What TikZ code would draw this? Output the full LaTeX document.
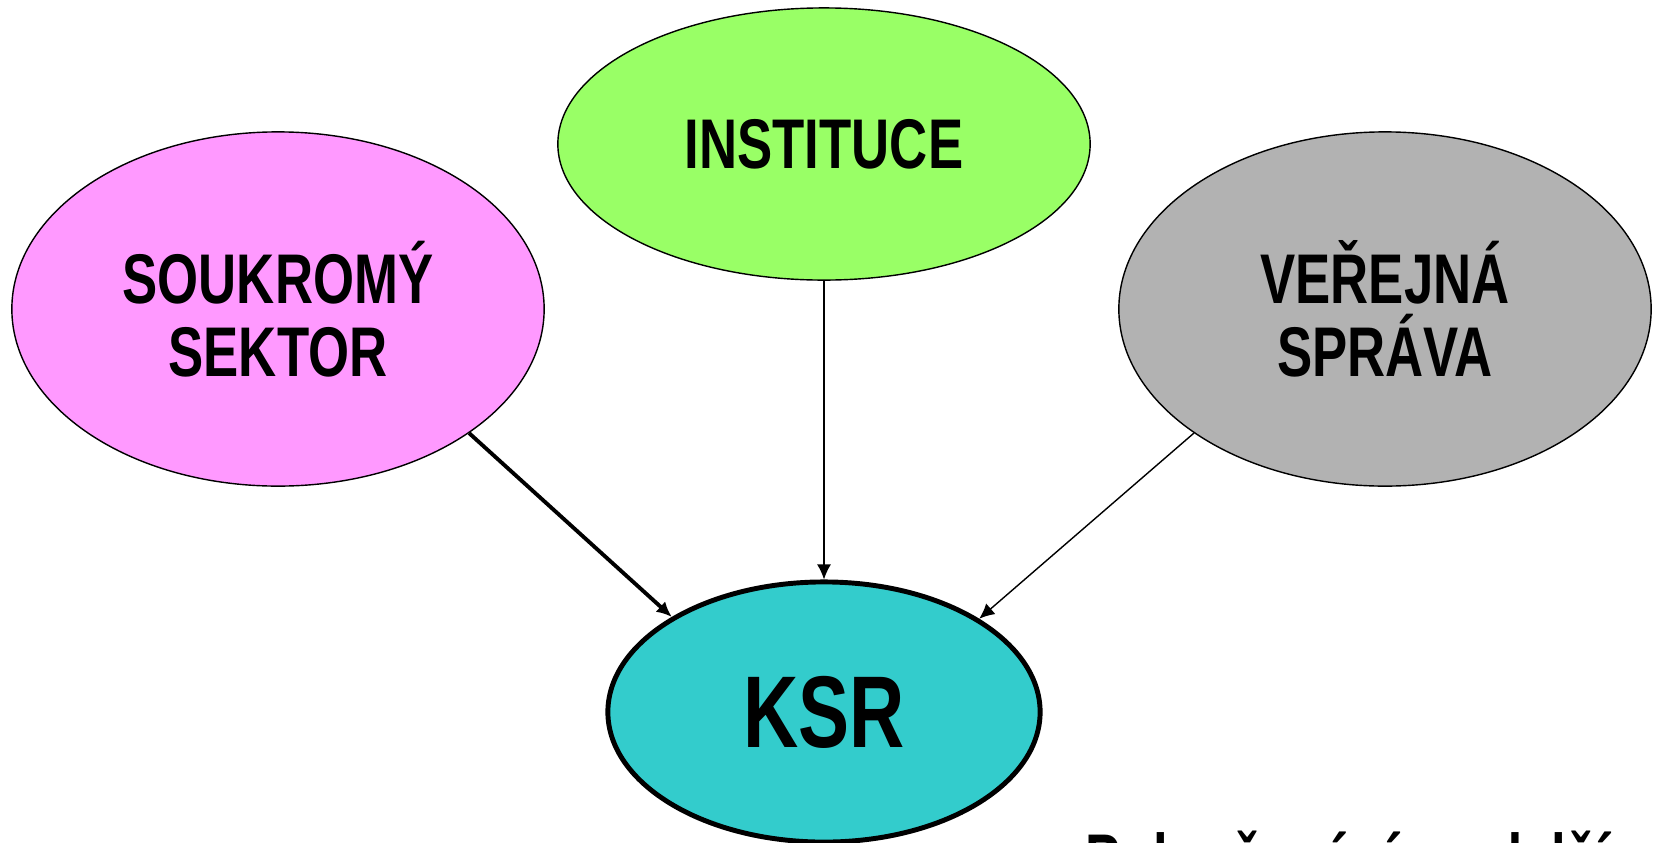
\documentclass[tikz,border=0pt]{standalone}
\usepackage{fontspec}
\setmainfont{Liberation Sans}
\newfontfamily\narrowsans[FakeStretch=0.75]{Liberation Sans}
\usetikzlibrary{shapes.geometric,arrows.meta}
\definecolor{pinkfill}{HTML}{FF99FF}
\definecolor{greenfill}{HTML}{99FF66}
\definecolor{grayfill}{HTML}{B2B2B2}
\definecolor{tealfill}{HTML}{33CCCC}
\begin{document}
\begin{tikzpicture}[x=0.01cm, y=-0.01cm,
    blob/.style={
        ellipse, draw, line width=0.4pt, inner sep=0pt,
        minimum width=5.32cm, minimum height=3.54cm,
        align=center, font=\narrowsans\bfseries\fontsize{20}{20.8}\selectfont
    },
    arrow/.style={-{Latex[length=4.3pt,width=4pt]}, line width=0.4pt}
]
\path[use as bounding box] (0,0) rectangle (1657,842);
\clip (0,0) rectangle (1657,842);

% Sources
\node[blob, fill=pinkfill] (sok) at (278,309) {SOUKROMÝ\\SEKTOR};
\node[blob, fill=greenfill, minimum height=2.72cm] (inst) at (824,144) {INSTITUCE};
\node[blob, fill=grayfill] (ver) at (1385,309) {VEŘEJNÁ\\SPRÁVA};

% Centre
\node[blob, fill=tealfill, line width=1.4pt, minimum width=4.32cm, minimum height=2.6cm,
      font=\narrowsans\bfseries\fontsize{29}{32}\selectfont] (ksr) at (824,712) {KSR};

% Arrows
\draw[arrow, line width=1.1pt] (sok.-33.5) -- (ksr.148);
\draw[arrow] (inst.south) -- (ksr.north);
\draw[arrow] (ver.213.4) -- (ksr.31.7);

% Cut-off caption
\node[anchor=base west, inner sep=0pt, font=\narrowsans\bfseries\fontsize{20}{24}\selectfont] (note) at (1085,883) {Pokračování na další straně};

\end{tikzpicture}
\end{document}
